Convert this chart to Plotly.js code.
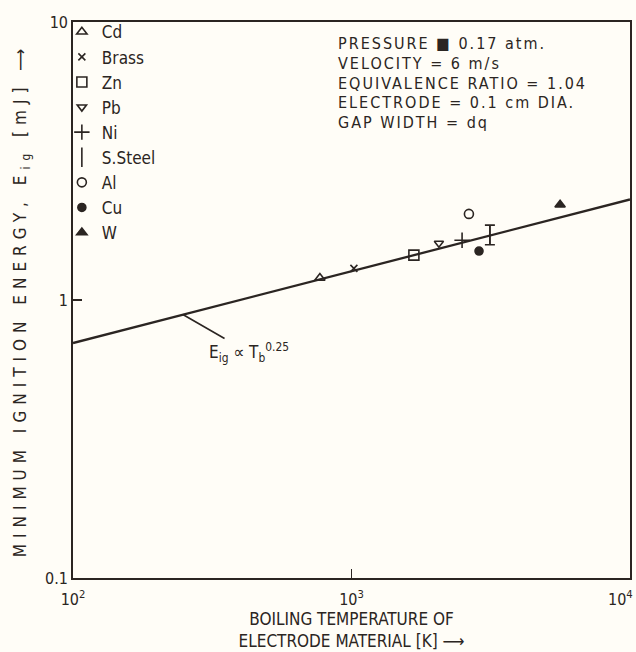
<!DOCTYPE html>
<html>
<head>
<meta charset="utf-8">
<script src="https://cdn.plot.ly/plotly-3.0.1.min.js"></script>
<style>
html,body{margin:0;padding:0;background:#fffdf7;}
#chart{width:636px;height:652px;}
</style>
</head>
<body>
<div id="chart"></div>
<script>
// Data
const materials = ["Cd", "Brass", "Zn", "Pb", "Ni", "S.Steel", "Al", "Cu", "W"];
const boilingT = [770, 1020, 1675, 2060, 2495, 3140, 2640, 2870, 5610];   // K
const ignitionE = [1.20, 1.30, 1.45, 1.60, 1.64, 1.71, 2.04, 1.50, 2.20]; // mJ
const errPlus  = [0, 0, 0, 0, 0, 0.15, 0, 0, 0];
const errMinus = [0, 0, 0, 0, 0, 0.13, 0, 0, 0];
const symbols = ["triangle-up-open", "x-thin-open", "square-open", "triangle-down-open",
                 "cross-thin-open", "line-ns-open", "circle-open", "circle", "triangle-up"];
const sizes = [9, 7, 10, 8, 11, 14, 9, 8, 9];
const fitT = [100, 10000];
const fitE = [0.70, 2.30];
const xTickVals = [100, 1000, 10000];
const xTickText = ["10<sup>2</sup>", "10<sup>3</sup>", ""];
const xLastTickText = "10<sup>4</sup>";
const yTickVals = [0.1, 1, 10];
const yTickText = ["0.1", "1", "10"];
const conditions = ["PRESSURE ■ 0.17 atm.", "VELOCITY = 6 m/s", "EQUIVALENCE RATIO = 1.04",
                    "ELECTRODE = 0.1 cm DIA.", "GAP WIDTH = dq"];

const ink = "#2b2522";
const FONT = "DejaVu Sans Condensed, Liberation Sans Narrow, sans-serif";

const traces = [];
traces.push({
  x: fitT, y: fitE, mode: "lines", type: "scatter",
  line: {color: ink, width: 2.3}, showlegend: false, hoverinfo: "skip"
});
materials.forEach((m, i) => {
  const t = {
    x: [boilingT[i]], y: [ignitionE[i]], name: m, type: "scatter", mode: "markers",
    marker: {symbol: symbols[i], size: sizes[i], color: ink, line: {color: ink, width: 1.6}}
  };
  if (errPlus[i] > 0) {
    t.error_y = {type: "data", symmetric: false, array: [errPlus[i]], arrayminus: [errMinus[i]],
                 color: ink, thickness: 1.6, width: 5};
  }
  traces.push(t);
});

const annotations = conditions.map((txt, k) => ({
  xref: "paper", yref: "paper", x: 0.473, y: 1 - ([44, 63.5, 83, 102.5, 122][k] - 22) / 556,
  xanchor: "left", yanchor: "middle", align: "left", showarrow: false,
  font: {size: 16, family: FONT, color: ink}, text: txt
}));
annotations.push({
  x: Math.log10(248), y: Math.log10(0.70 * Math.pow(2.48, 0.261)), xref: "x", yref: "y",
  text: "E<sub>ig</sub> ∝ T<sub>b</sub><sup>0.25</sup>", showarrow: true, arrowhead: 0,
  arrowwidth: 1.6, arrowcolor: ink, ax: 66, ay: 38, font: {size: 17, family: FONT, color: ink}
});
annotations.push({
  xref: "paper", yref: "paper", x: 1.009, y: -0.014, xanchor: "right", yanchor: "top",
  showarrow: false, text: xLastTickText, font: {size: 16, family: FONT, color: ink}
});

const layout = {
  width: 636, height: 652,
  margin: {l: 73, r: 6, t: 22, b: 74},
  paper_bgcolor: "#fffdf7", plot_bgcolor: "#fffdf7",
  font: {family: FONT, color: ink, size: 16},
  showlegend: true,
  legend: {x: -0.02, y: 1.014, xanchor: "left", yanchor: "top", bgcolor: "rgba(0,0,0,0)",
           font: {family: FONT, size: 17, color: ink}, itemwidth: 30, tracegroupgap: 0},
  xaxis: {
    type: "log", range: [2, 4], showline: true, mirror: true, linecolor: ink, linewidth: 1.8,
    showgrid: false, zeroline: false, ticks: "inside", ticklen: 9, tickwidth: 1.5, tickcolor: ink,
    tickvals: xTickVals, ticktext: xTickText, tickfont: {size: 16}, ticklabelstandoff: 6,
    title: {text: "BOILING TEMPERATURE OF<br>ELECTRODE MATERIAL [K] ⟶", font: {size: 17}, standoff: 4}
  },
  yaxis: {
    type: "log", range: [-1, 1], showline: true, mirror: true, linecolor: ink, linewidth: 1.8,
    showgrid: false, zeroline: false, ticks: "inside", ticklen: 9, tickwidth: 1.5, tickcolor: ink,
    tickvals: yTickVals, ticktext: yTickText, tickfont: {size: 16}, ticklabeloverflow: "allow",
    title: {text: "MINIMUM IGNITION ENERGY, E<sub>ig</sub> [mJ] ⟶", font: {size: 17}, standoff: 14}
  },
  annotations: annotations
};

Plotly.newPlot("chart", traces, layout, {displayModeBar: false, staticPlot: true}).then(() => {
  document.querySelectorAll(".ytitle").forEach(el => { el.style.letterSpacing = "6px"; });
  document.querySelectorAll(".annotation-text").forEach((el, k) => {
    if (k < conditions.length) el.style.letterSpacing = "2px";
  });
});
</script>
</body>
</html>
